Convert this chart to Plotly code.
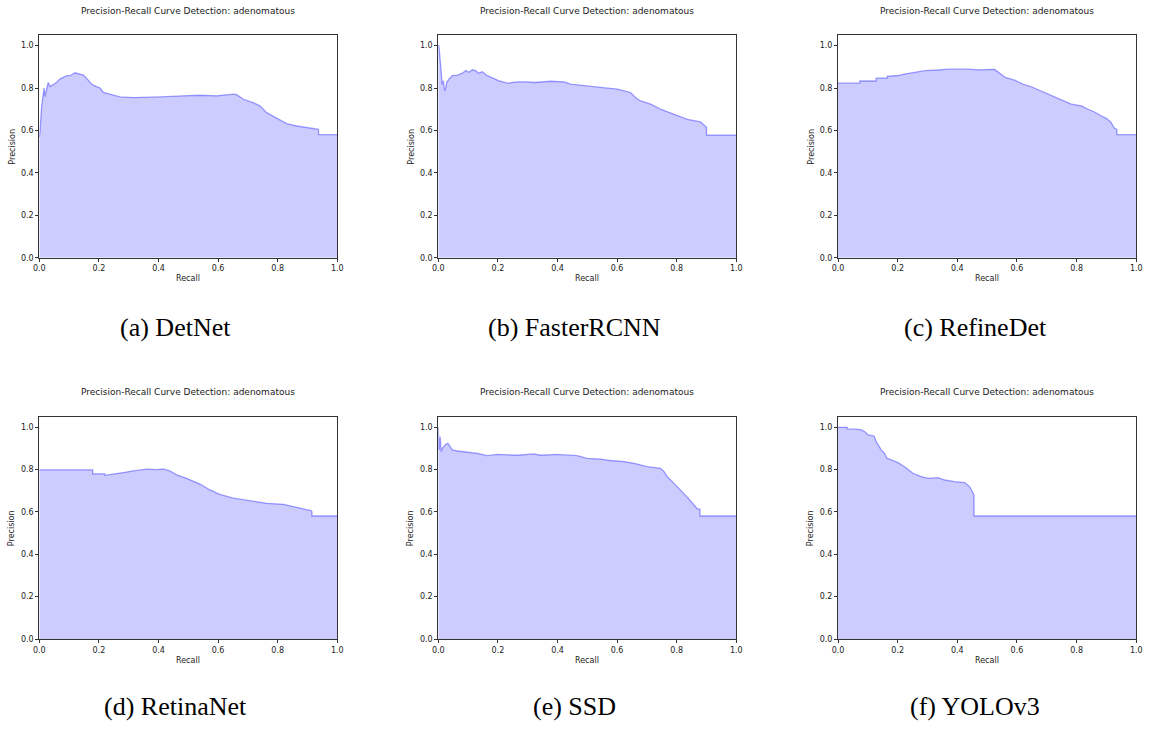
import plotly.graph_objects as go

TITLE = "Precision-Recall Curve Detection: adenomatous"
captions = ["(a) DetNet", "(b) FasterRCNN", "(c) RefineDet",
            "(d) RetinaNet", "(e) SSD", "(f) YOLOv3"]

# (a) DetNet
recall_a = [0, 0.002, 0.008, 0.011, 0.016, 0.019, 0.025, 0.030, 0.036, 0.047, 0.058, 0.069,
            0.092, 0.103, 0.120, 0.136, 0.148, 0.161, 0.176, 0.192, 0.204, 0.215, 0.237,
            0.254, 0.271, 0.315, 0.371, 0.405, 0.483, 0.539, 0.595, 0.651, 0.662, 0.685,
            0.718, 0.740, 0.763, 0.785, 0.808, 0.830, 0.864, 0.908, 0.937, 0.937, 1.0]
prec_a = [0.57, 0.59, 0.715, 0.747, 0.80, 0.76, 0.80, 0.826, 0.807, 0.818, 0.826, 0.842,
          0.858, 0.858, 0.872, 0.866, 0.861, 0.842, 0.818, 0.807, 0.80, 0.779, 0.771,
          0.763, 0.758, 0.755, 0.755, 0.758, 0.763, 0.766, 0.763, 0.771, 0.769, 0.747,
          0.731, 0.716, 0.684, 0.668, 0.649, 0.632, 0.621, 0.613, 0.605, 0.58, 0.58]

# (b) FasterRCNN
recall_b = [0, 0.002, 0.008, 0.010, 0.013, 0.017, 0.021, 0.025, 0.028, 0.036, 0.047, 0.064,
            0.081, 0.092, 0.103, 0.114, 0.125, 0.136, 0.148, 0.164, 0.187, 0.204, 0.232,
            0.265, 0.299, 0.321, 0.377, 0.422, 0.444, 0.489, 0.545, 0.601, 0.645, 0.662,
            0.679, 0.713, 0.746, 0.791, 0.836, 0.880, 0.897, 0.900, 0.900, 1.0]
prec_b = [1.0, 1.0, 0.905, 0.842, 0.818, 0.834, 0.787, 0.80, 0.826, 0.842, 0.858, 0.861,
          0.870, 0.882, 0.874, 0.886, 0.882, 0.870, 0.877, 0.858, 0.842, 0.834, 0.823,
          0.829, 0.829, 0.826, 0.832, 0.829, 0.818, 0.810, 0.803, 0.795, 0.779, 0.755,
          0.739, 0.724, 0.70, 0.676, 0.652, 0.640, 0.621, 0.615, 0.578, 0.578]

# (c) RefineDet
recall_c = [0, 0.073, 0.073, 0.128, 0.128, 0.165, 0.165, 0.201, 0.223, 0.257, 0.291, 0.335,
            0.369, 0.436, 0.469, 0.525, 0.536, 0.561, 0.592, 0.620, 0.648, 0.682, 0.715,
            0.749, 0.782, 0.816, 0.838, 0.860, 0.883, 0.899, 0.914, 0.927, 0.935, 0.935, 1.0]
prec_c = [0.823, 0.823, 0.833, 0.833, 0.847, 0.847, 0.855, 0.859, 0.866, 0.874, 0.882, 0.885,
          0.889, 0.889, 0.886, 0.888, 0.877, 0.85, 0.837, 0.818, 0.806, 0.784, 0.766,
          0.744, 0.724, 0.716, 0.70, 0.687, 0.668, 0.657, 0.640, 0.610, 0.605, 0.58, 0.58]

# (d) RetinaNet
recall_d = [0, 0.179, 0.179, 0.220, 0.220, 0.248, 0.282, 0.315, 0.360, 0.394, 0.416, 0.438,
            0.461, 0.494, 0.539, 0.573, 0.606, 0.651, 0.707, 0.763, 0.819, 0.852, 0.897,
            0.912, 0.915, 0.915, 1.0]
prec_d = [0.799, 0.799, 0.78, 0.78, 0.773, 0.778, 0.786, 0.794, 0.802, 0.80, 0.803, 0.794,
          0.775, 0.759, 0.732, 0.704, 0.683, 0.665, 0.652, 0.641, 0.636, 0.625, 0.613,
          0.606, 0.600, 0.581, 0.581]

# (e) SSD
recall_e = [0, 0.002, 0.006, 0.010, 0.013, 0.019, 0.025, 0.032, 0.038, 0.047, 0.064, 0.097,
            0.131, 0.164, 0.198, 0.265, 0.321, 0.343, 0.399, 0.466, 0.50, 0.545, 0.578,
            0.623, 0.657, 0.701, 0.746, 0.757, 0.768, 0.791, 0.813, 0.836, 0.858, 0.869,
            0.878, 0.878, 1.0]
prec_e = [1.0, 0.893, 0.956, 0.885, 0.90, 0.91, 0.92, 0.924, 0.91, 0.893, 0.888, 0.883,
          0.877, 0.866, 0.872, 0.868, 0.874, 0.868, 0.872, 0.866, 0.853, 0.850, 0.843,
          0.838, 0.830, 0.814, 0.806, 0.791, 0.767, 0.735, 0.704, 0.669, 0.633, 0.616,
          0.613, 0.581, 0.581]

# (f) YOLOv3
recall_f = [0, 0.031, 0.031, 0.056, 0.061, 0.078, 0.089, 0.101, 0.121, 0.128, 0.145, 0.156,
            0.164, 0.179, 0.201, 0.223, 0.251, 0.279, 0.302, 0.335, 0.358, 0.391, 0.425,
            0.441, 0.453, 0.456, 0.456, 1.0]
prec_f = [1.0, 1.0, 0.992, 0.994, 0.991, 0.988, 0.98, 0.964, 0.959, 0.932, 0.893, 0.877,
          0.854, 0.846, 0.833, 0.814, 0.783, 0.767, 0.759, 0.762, 0.751, 0.743, 0.739,
          0.720, 0.691, 0.68, 0.581, 0.581]

series = [(recall_a, prec_a), (recall_b, prec_b), (recall_c, prec_c),
          (recall_d, prec_d), (recall_e, prec_e), (recall_f, prec_f)]

W, H = 1151, 729
col_px = [(39.3, 337.3), (438.3, 736.3), (838.0, 1136.3)]
row_px = [(35.0, 257.7), (416.7, 639.0)]
ylab_px = [12.3, 411.3, 811.3]
title_py = [11, 392]
xlab_py = [279, 660]
cap_py = [327, 706]
cap_cx = [175, 574, 975]

fig = go.Figure()
AX = "#333333"
for i, (rx, py) in enumerate(series):
    r, c = divmod(i, 3)
    n = i + 1
    xa = "x" if n == 1 else f"x{n}"
    ya = "y" if n == 1 else f"y{n}"
    fig.add_trace(go.Scatter(
        x=rx, y=py, mode="lines", line=dict(color="rgba(0,0,255,0.36)", width=1.3),
        fill="tozeroy", fillcolor="rgba(0,0,255,0.2)", xaxis=xa, yaxis=ya,
        showlegend=False, hoverinfo="skip"))
    x0, x1 = col_px[c]
    y0, y1 = row_px[r]
    common = dict(showgrid=False, zeroline=False, showline=True, linecolor=AX,
                  linewidth=1, mirror=True, ticks="outside", ticklen=3, tickwidth=1,
                  tickcolor=AX, tickfont=dict(family="DejaVu Sans", size=8, color="#222"),
                  dtick=0.2, tickformat=".1f", automargin=False)
    fig.layout[f"xaxis{'' if n == 1 else n}"] = dict(
        domain=[x0 / W, x1 / W], range=[0, 1], anchor=ya, tick0=0, **common)
    fig.layout[f"yaxis{'' if n == 1 else n}"] = dict(
        domain=[1 - y1 / H, 1 - y0 / H], range=[0, 1.05], anchor=xa, tick0=0, **common)
    cx = (x0 + x1) / 2 / W
    fig.add_annotation(text=TITLE, x=cx, y=1 - title_py[r] / H, xref="paper", yref="paper",
                       showarrow=False, font=dict(family="DejaVu Sans", size=9, color="#222"),
                       xanchor="center", yanchor="middle")
    fig.add_annotation(text="Recall", x=cx, y=1 - xlab_py[r] / H, xref="paper", yref="paper",
                       showarrow=False, font=dict(family="DejaVu Sans", size=8, color="#222"),
                       xanchor="center", yanchor="middle")
    fig.add_annotation(text="Precision", x=ylab_px[c] / W, y=1 - ((y0 + y1) / 2) / H,
                       xref="paper", yref="paper", showarrow=False, textangle=-90,
                       font=dict(family="DejaVu Sans", size=8, color="#222"),
                       xanchor="center", yanchor="middle")
    fig.add_annotation(text=captions[i], x=cap_cx[c] / W, y=1 - cap_py[r] / H,
                       xref="paper", yref="paper", showarrow=False,
                       font=dict(family="Liberation Serif", size=26, color="#000"),
                       xanchor="center", yanchor="middle")

fig.update_layout(width=W, height=H, margin=dict(l=0, r=0, t=0, b=0),
                  paper_bgcolor="white", plot_bgcolor="white")
fig.write_html("out.html", config={"displayModeBar": False},
               post_script="document.body.style.margin='0';document.body.style.overflow='hidden';")
